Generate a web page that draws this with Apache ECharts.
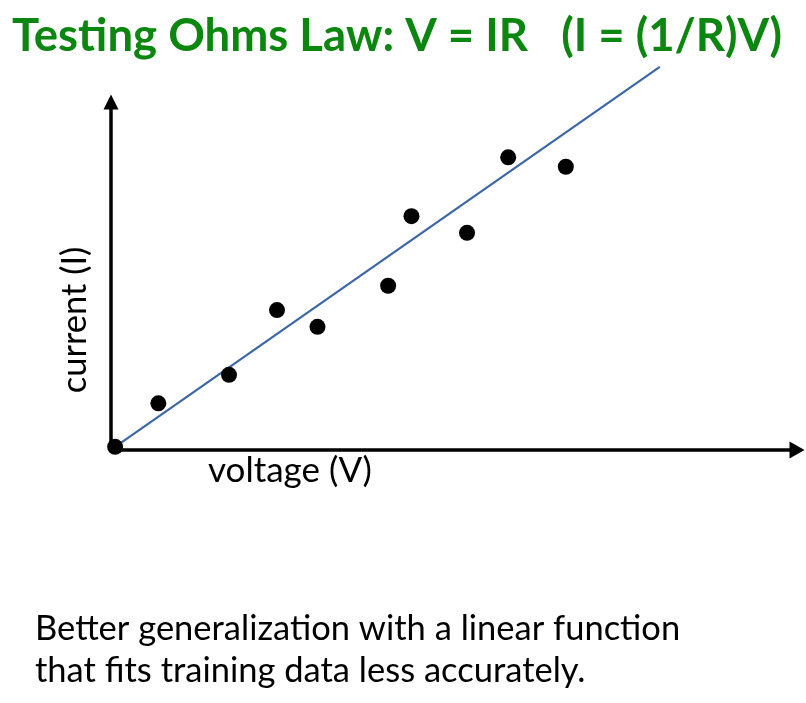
<!DOCTYPE html>
<html>
<head>
<meta charset="utf-8">
<script src="https://cdn.jsdelivr.net/npm/echarts@6/dist/echarts.min.js"></script>
<style>
  html, body { margin: 0; padding: 0; background: #fff; }
  #main { width: 806px; height: 703px; }
</style>
</head>
<body>
<div id="main"></div>
<script>
// measured points (arbitrary units, axes 0..100)
var voltage = [0.6, 6.9, 17.2, 24.2, 30.1, 40.4, 43.8, 51.9, 57.9, 66.3];
var current = [0.9, 13.4, 21.6, 40.2, 35.4, 47.2, 67.2, 62.4, 84.1, 81.4];
// fitted line end points
var fitV = [0.6, 80.0];
var fitI = [0.9, 110.1];

var titleText = 'Testing Ohms Law: V = IR   (I = (1/R)V)';
var xName = 'voltage (V)';
var yName = 'current (I)';
var note = ['Better generalization with a linear function',
            'that fits training data less accurately.'];

var FONT = 'Lato, "Open Sans", sans-serif';

function pairs(a, b) {
  return a.map(function (v, i) { return [v, b[i]]; });
}

var chart = echarts.init(document.getElementById('main'));
chart.setOption({
  backgroundColor: '#fff',
  animation: false,
  grid: { left: 111, right: 9, top: 102, bottom: 253 },
  xAxis: {
    type: 'value', min: 0, max: 100,
    axisLine: { show: true, symbol: ['none', 'triangle'], symbolSize: [17, 15],
      lineStyle: { color: '#000', width: 3.5 } },
    axisTick: { show: false }, axisLabel: { show: false }, splitLine: { show: false }
  },
  yAxis: {
    type: 'value', min: 0, max: 100,
    axisLine: { show: true, symbol: ['none', 'triangle'], symbolSize: [15, 15],
      lineStyle: { color: '#000', width: 3.5 } },
    axisTick: { show: false }, axisLabel: { show: false }, splitLine: { show: false }
  },
  series: [
    {
      type: 'line', data: pairs(fitV, fitI), clip: false, symbol: 'none',
      lineStyle: { color: '#3b67a6', width: 2.2 }, z: 3
    },
    {
      type: 'scatter', data: pairs(voltage, current), clip: false,
      symbolSize: 16, itemStyle: { color: '#000', opacity: 1 }, z: 4
    }
  ],
  graphic: [
    { type: 'text', x: 12, y: 36,
      style: { text: titleText, fontFamily: FONT, fontWeight: 'bold', fontSize: 45.5, fill: '#0b870f', verticalAlign: 'middle' } },
    { type: 'text', x: 208, y: 471,
      style: { text: xName, fontFamily: FONT, fontSize: 35, fill: '#000', verticalAlign: 'middle' } },
    { type: 'text', x: 75, y: 320, rotation: Math.PI / 2,
      style: { text: yName, fontFamily: FONT, fontSize: 34.5, fill: '#000', align: 'center', verticalAlign: 'middle' } },
    { type: 'text', x: 35, y: 629,
      style: { text: note[0], fontFamily: FONT, fontSize: 34.5, fill: '#000', verticalAlign: 'middle' } },
    { type: 'text', x: 35, y: 671,
      style: { text: note[1], fontFamily: FONT, fontSize: 34.5, fill: '#000', verticalAlign: 'middle' } }
  ]
});
</script>
</body>
</html>
